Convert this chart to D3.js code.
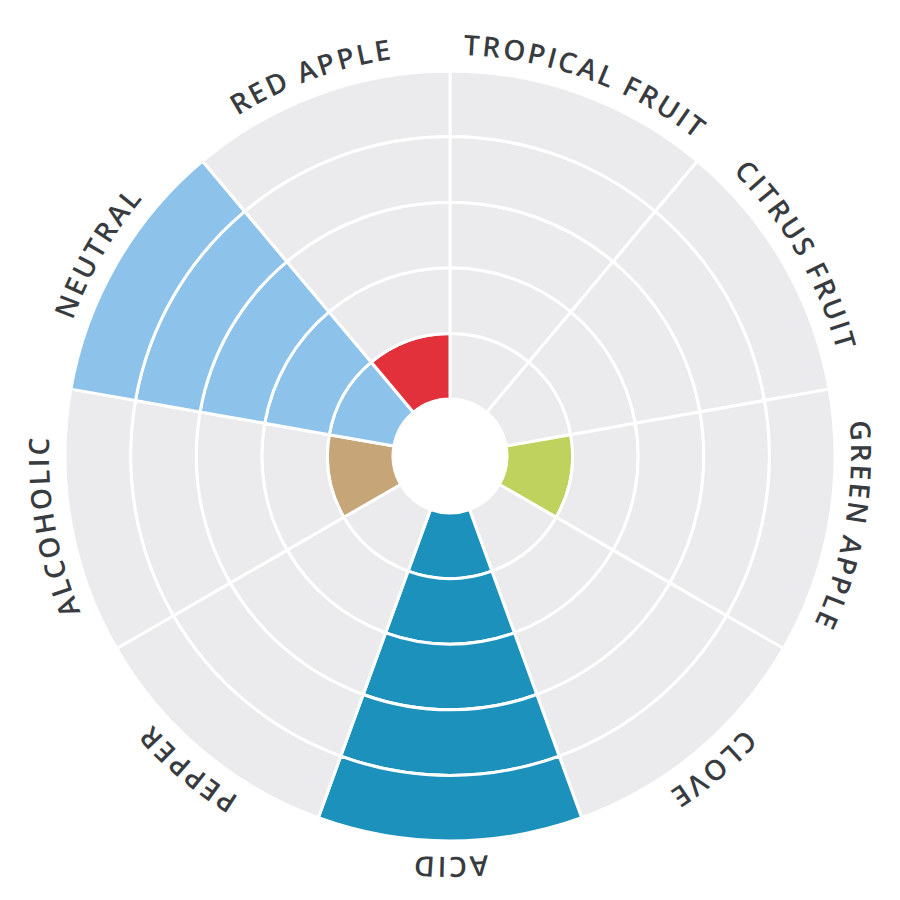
<!DOCTYPE html>
<html>
<head>
<meta charset="utf-8">
<script src="https://cdn.jsdelivr.net/npm/d3@7"></script>
<style>
  html, body { margin: 0; padding: 0; background: #ffffff; }
  svg { display: block; }
</style>
</head>
<body>
<svg id="chart" width="900" height="900"></svg>
<script>
// ---- data ----
const categories = ["TROPICAL FRUIT", "CITRUS FRUIT", "GREEN APPLE", "CLOVE", "ACID", "PEPPER", "ALCOHOLIC", "NEUTRAL", "RED APPLE"];
const values = [0, 0, 1, 0, 5, 0, 1, 5, 1];
const colors = ["#e2313b", "#e2313b", "#bfd25d", "#c6a679", "#1b91bb", "#c6a679", "#c6a679", "#8dc2ea", "#e2313b"];
const levels = [1, 2, 3, 4, 5];

// ---- layout ----
const cx = 450, cy = 456;
const innerR = 57, outerR = 385, labelR = 401;
const svg = d3.select("#chart");
const g = svg.append("g").attr("transform", `translate(${cx},${cy})`);

const angle = d3.scaleBand().domain(categories).range([0, 2 * Math.PI]).paddingInner(0).paddingOuter(0);
const r = d3.scaleLinear().domain([0, levels.length]).range([innerR, outerR]);

const cells = [];
categories.forEach((c, i) => {
  levels.forEach(l => {
    cells.push({ cat: c, level: l, on: l <= values[i], color: colors[i] });
  });
});

const arc = d3.arc()
  .innerRadius(d => r(d.level - 1))
  .outerRadius(d => r(d.level))
  .startAngle(d => angle(d.cat))
  .endAngle(d => angle(d.cat) + angle.bandwidth());

g.selectAll("path.cell")
  .data(cells)
  .join("path")
  .attr("class", "cell")
  .attr("d", arc)
  .attr("fill", d => d.on ? d.color : "#ebebed")
  .attr("stroke", "#ffffff")
  .attr("stroke-width", 3)
  .attr("stroke-linejoin", "miter");

// ---- labels along arcs ----
const defs = svg.append("defs");
categories.forEach((c, i) => {
  const a0 = angle(c), a1 = a0 + angle.bandwidth();
  const x0 = cx + labelR * Math.sin(a0), y0 = cy - labelR * Math.cos(a0);
  const x1 = cx + labelR * Math.sin(a1), y1 = cy - labelR * Math.cos(a1);
  defs.append("path")
    .attr("id", "lp" + i)
    .attr("d", `M${x0},${y0} A${labelR},${labelR} 0 0 1 ${x1},${y1}`);
});

svg.selectAll("text.lab")
  .data(categories)
  .join("text")
  .attr("class", "lab")
  .attr("font-family", "'Open Sans', 'Noto Sans', sans-serif")
  .attr("font-size", 28)
  .attr("font-weight", 600)
  .attr("letter-spacing", 2.5)
  .attr("fill", "#383b40")
  .append("textPath")
  .attr("href", (d, i) => "#lp" + i)
  .attr("startOffset", "50%")
  .attr("text-anchor", "middle")
  .text(d => d);
</script>
</body>
</html>
